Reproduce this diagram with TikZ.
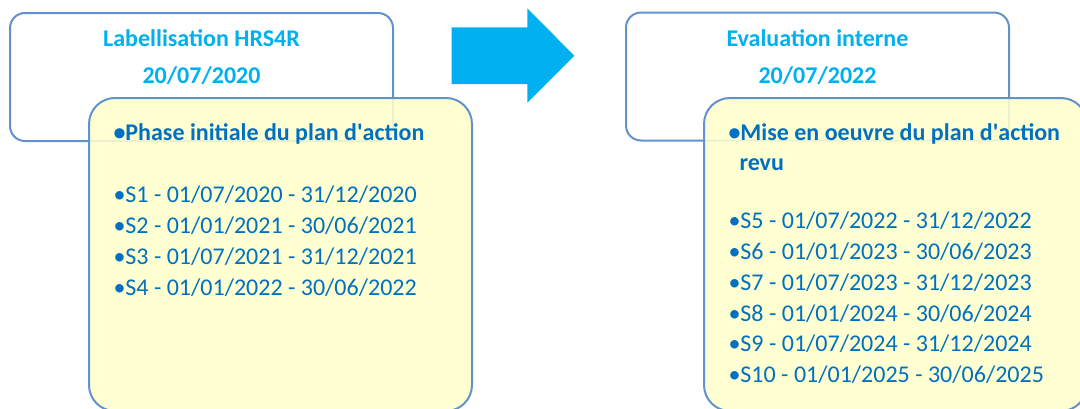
\documentclass[tikz,border=0pt]{standalone}
\usepackage{fontspec}
\setmainfont{Carlito}
\definecolor{bordc}{RGB}{98,146,206}
\definecolor{yel}{RGB}{255,255,204}
\definecolor{cyant}{RGB}{0,176,240}
\definecolor{bodyt}{RGB}{0,112,192}
\tikzset{
  whitebox/.style={draw=bordc, line width=2pt, fill=white, rounded corners=15pt, minimum width=383pt, minimum height=128pt, inner sep=0pt},
  yelbox/.style={draw=bordc, line width=2pt, fill=yel, fill opacity=0.88, rounded corners=26pt, minimum width=383pt, minimum height=313pt, inner sep=0pt},
  titletxt/.style={anchor=base, inner sep=0pt, text=cyant, font=\fontsize{24}{28}\selectfont\bfseries},
  bodytxt/.style={anchor=base west, inner sep=0pt, text=bodyt, font=\fontsize{24}{28}\selectfont},
  headtxt/.style={bodytxt, font=\fontsize{24}{28}\selectfont\bfseries},
}
\begin{document}
\begin{tikzpicture}[x=1pt,y=1pt]
\useasboundingbox (0,0) rectangle (1080,-408);
% left group
\node[whitebox] (lw) at (201.5,-77) {};
\node[yelbox] (ly) at (280.5,-254.5) {};
\node[titletxt] (lt1) at (201.5,-46.7) {Labellisation HRS4R};
\node[titletxt] (lt2) at (201.5,-83) {20/07/2020};
\node[headtxt] (lh) at (113.3,-140) {•Phase initiale du plan d\textquotesingle action};
\node[bodytxt] (s1) at (113.3,-202.3) {•S1 - 01/07/2020 - 31/12/2020};
\node[bodytxt] (s2) at (113.3,-233.3) {•S2 - 01/01/2021 - 30/06/2021};
\node[bodytxt] (s3) at (113.3,-264.3) {•S3 - 01/07/2021 - 31/12/2021};
\node[bodytxt] (s4) at (113.3,-295.3) {•S4 - 01/01/2022 - 30/06/2022};
% arrow
\fill[cyant] (451.7,-27.3) -- (527.3,-27.3) -- (527.3,-8.3) -- (574.3,-55.7) -- (527.3,-102.7) -- (527.3,-84) -- (451.7,-84) -- cycle;
% right group
\node[whitebox] (rw) at (817.5,-76.5) {};
\node[yelbox] (ry) at (895.5,-254.5) {};
\node[titletxt] (rt1) at (817.5,-46.7) {Evaluation interne};
\node[titletxt] (rt2) at (817.5,-83) {20/07/2022};
\node[headtxt] (rh) at (728.3,-140) {•Mise en oeuvre du plan d\textquotesingle action};
\node[headtxt, anchor=base west] (rh2) at (739.3,-170.5) {revu};
\node[bodytxt] (s5) at (728.3,-228.3) {•S5 - 01/07/2022 - 31/12/2022};
\node[bodytxt] (s6) at (728.3,-259.2) {•S6 - 01/01/2023 - 30/06/2023};
\node[bodytxt] (s7) at (728.3,-290.1) {•S7 - 01/07/2023 - 31/12/2023};
\node[bodytxt] (s8) at (728.3,-321) {•S8 - 01/01/2024 - 30/06/2024};
\node[bodytxt] (s9) at (728.3,-351.9) {•S9 - 01/07/2024 - 31/12/2024};
\node[bodytxt] (s10) at (728.3,-382.8) {•S10 - 01/01/2025 - 30/06/2025};
\end{tikzpicture}
\end{document}
